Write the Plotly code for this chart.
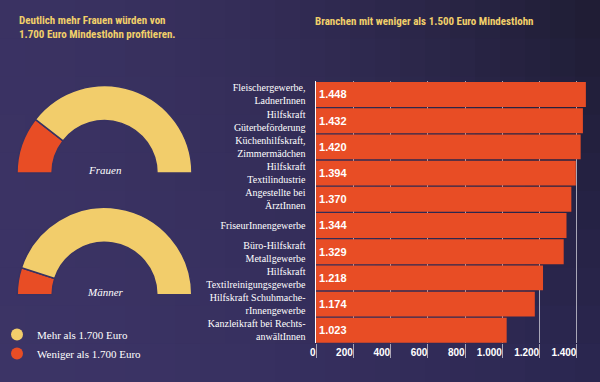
import plotly.graph_objects as go

# ---- data ----
branchen = [
    "Fleischergewerbe,<br>LadnerInnen",
    "Hilfskraft<br>Güterbeförderung",
    "Küchenhilfskraft,<br>Zimmermädchen",
    "Hilfskraft<br>Textilindustrie",
    "Angestellte bei<br>ÄrztInnen",
    "FriseurInnengewerbe",
    "Büro-Hilfskraft<br>Metallgewerbe",
    "Hilfskraft<br>Textilreinigungsgewerbe",
    "Hilfskraft Schuhmache-<br>rInnengewerbe",
    "Kanzleikraft bei Rechts-<br>anwältInnen",
]
lohn = [1448, 1432, 1420, 1394, 1370, 1344, 1329, 1218, 1174, 1023]
x_ticks = [0, 200, 400, 600, 800, 1000, 1200, 1400]

gauge_labels = ["Weniger als 1.700 Euro", "Mehr als 1.700 Euro"]
frauen = [21, 79]
maenner = [10, 90]

RED = "#e84d25"
YELLOW = "#f2cd6b"
TITLE = "#f1cf6a"
BG = "#383262"
SERIF = "Liberation Serif, Times New Roman, serif"
NARROW = "Liberation Sans Narrow, Roboto Condensed, Roboto, Liberation Sans, sans-serif"
SANS = "Liberation Sans, Arial, sans-serif"

fig = go.Figure()

# bars
fig.add_trace(go.Bar(
    x=lohn, y=branchen, orientation="h",
    marker=dict(color=RED, line=dict(width=0)),
    texttemplate="%{x:,d}", textposition="inside", insidetextanchor="start",
    textfont=dict(family=SANS, size=11, color="white", weight="bold"),
    showlegend=False, hoverinfo="skip",
))

# gauges
for vals, dom in [(frauen, dict(x=[0.0283, 0.32], y=[0.318, 0.776])),
                  (maenner, dict(x=[0.0283, 0.32], y=[0.0, 0.457]))]:
    fig.add_trace(go.Pie(
        values=vals + [sum(vals)], labels=gauge_labels + [""],
        hole=0.6, sort=False, direction="clockwise", rotation=270,
        marker=dict(colors=[RED, YELLOW, "rgba(0,0,0,0)"],
                    line=dict(color=BG, width=[1.5, 1.5, 0])),
        textinfo="none", textposition="none", hoverinfo="skip",
        showlegend=False, domain=dom,
    ))

# legend entries
for name, col in [("Mehr als 1.700 Euro", YELLOW), ("Weniger als 1.700 Euro", RED)]:
    fig.add_trace(go.Scatter(x=[None], y=[None], mode="markers", name=name,
                             marker=dict(color=col, size=12, symbol="circle")))

# background gradient (grid of flat rectangles)
TL, TR = (58, 50, 98), (30, 28, 50)
BL, BR = (60, 52, 102), (42, 38, 80)
nx, ny = 24, 10
for i in range(nx):
    u = ((i + 0.5) / nx) ** 1.6
    for j in range(ny):
        v = (j + 0.5) / ny
        c = [TL[k] * (1 - u) * (1 - v) + TR[k] * u * (1 - v)
             + BL[k] * (1 - u) * v + BR[k] * u * v for k in range(3)]
        fig.add_shape(type="rect", xref="paper", yref="paper",
                      x0=i / nx, x1=(i + 1) / nx + 0.002,
                      y0=1 - (j + 1) / ny - 0.003, y1=1 - j / ny,
                      fillcolor="rgb(%d,%d,%d)" % tuple(int(round(x)) for x in c),
                      line=dict(width=0), layer="below")

fig.update_layout(
    width=600, height=382,
    margin=dict(l=0, r=0, t=0, b=0, autoexpand=False),
    paper_bgcolor=BG, plot_bgcolor="rgba(0,0,0,0)",
    separators=",.",
    bargap=0.05,
    xaxis=dict(domain=[0.5267, 0.9833], range=[0, 1470],
               tickvals=x_ticks, tickformat=",d",
               showgrid=True, gridcolor="#a9a7b8", gridwidth=1,
               zeroline=False, ticks="outside", ticklen=14, tickcolor="#a9a7b8",
               ticklabelposition="outside left",
               tickfont=dict(family=SANS, size=10, color="white", weight="bold"),
               automargin=False, fixedrange=True),
    yaxis=dict(domain=[0.101, 0.787], autorange="reversed",
               showline=True, linecolor="white", linewidth=1.5,
               showgrid=False, ticks="", ticklabelstandoff=7,
               tickfont=dict(family=SERIF, size=10, color="white"),
               automargin=False, fixedrange=True),
    legend=dict(x=-3 / 600, y=1 - 320 / 382, xanchor="left", yanchor="top",
                bgcolor="rgba(0,0,0,0)",
                font=dict(family=SERIF, size=11, color="white")),
    annotations=[
        dict(text="Deutlich mehr Frauen würden von<br>1.700 Euro Mindestlohn profitieren.",
             xref="paper", yref="paper", x=17 / 600, y=1 - 28 / 382,
             xanchor="left", yanchor="middle", align="left", showarrow=False,
             font=dict(family=NARROW, size=11, color=TITLE, weight="bold")),
        dict(text="Branchen mit weniger als 1.500 Euro Mindestlohn",
             xref="paper", yref="paper", x=313 / 600, y=1 - 21 / 382,
             xanchor="left", yanchor="middle", showarrow=False,
             font=dict(family=NARROW, size=11, color=TITLE, weight="bold")),
        dict(text="<i>Frauen</i>", xref="paper", yref="paper",
             x=105 / 600, y=1 - 170 / 382, xanchor="center", yanchor="middle",
             showarrow=False, font=dict(family=SERIF, size=11, color="white")),
        dict(text="<i>Männer</i>", xref="paper", yref="paper",
             x=105 / 600, y=1 - 292 / 382, xanchor="center", yanchor="middle",
             showarrow=False, font=dict(family=SERIF, size=11, color="white")),
    ],
)

fig.write_html("out.html",
               config={"displayModeBar": False, "staticPlot": True},
               post_script="document.body.style.margin='0';document.body.style.overflow='hidden';")
